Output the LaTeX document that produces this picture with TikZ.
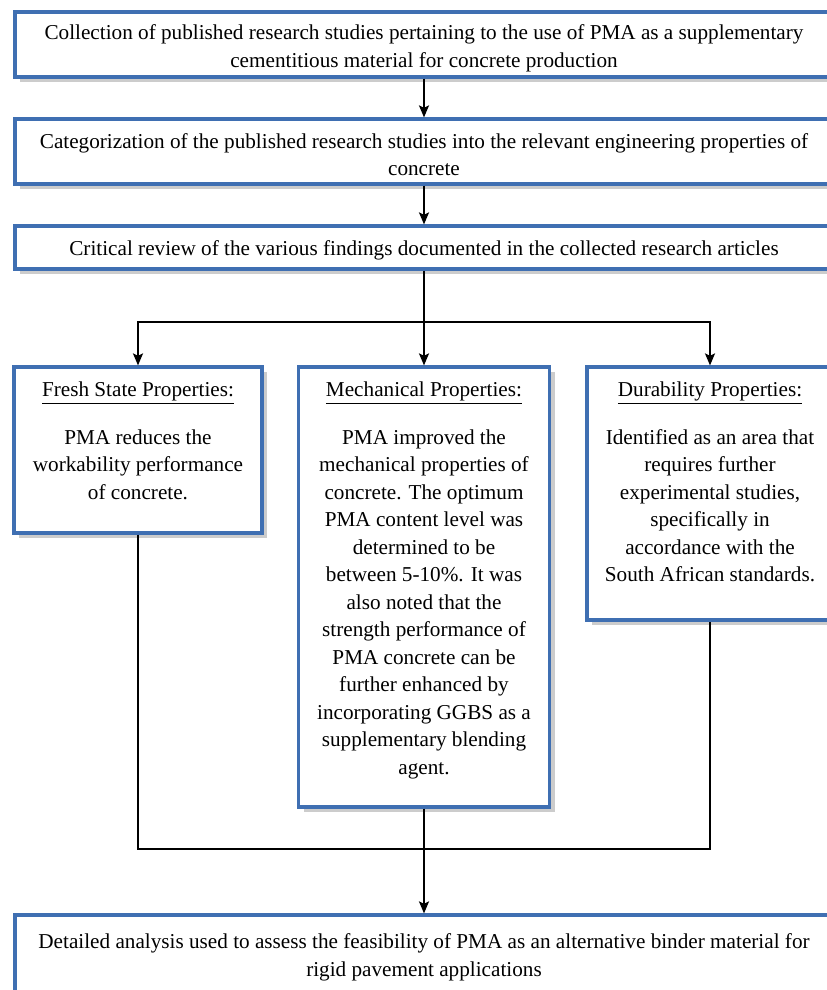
\documentclass[tikz,border=0pt]{standalone}
\usepackage{fontspec}
\setmainfont{Liberation Serif}
\usetikzlibrary{positioning,shadows,arrows.meta}
\definecolor{boxblue}{HTML}{3F6FB2}
\tikzset{
  stagebox/.style={draw=boxblue, line width=1.6pt, fill=white, inner sep=0pt,
    drop shadow={shadow xshift=2.5pt, shadow yshift=-2.5pt, opacity=0.4}},
  boxtext/.style={align=center, inner sep=0pt, font=\fontsize{10.6}{13.75}\selectfont},
  flow/.style={line width=0.9pt, -{Stealth[length=6pt, width=5pt, inset=1.2pt]}},
  link/.style={line width=0.9pt},
}
\begin{document}
\begin{tikzpicture}[x=0.5pt,y=-0.5pt]
\useasboundingbox (0,0) rectangle (826,990);
% full-width stages
\node[stagebox, minimum width=409pt, minimum height=32.5pt] (collect) at (424,44.5){};
\node[boxtext] (collecttxt) at ([yshift=-2pt]collect.center){Collection of published research studies pertaining to the use of PMA as a supplementary\\cementitious material for concrete production};
\node[stagebox, minimum width=409pt, minimum height=32.5pt] (categ) at (424,151.5){};
\node[boxtext] (categtxt) at ([yshift=-1.5pt]categ.center){Categorization of the published research studies into the relevant engineering properties of\\concrete};
\node[stagebox, minimum width=409pt, minimum height=21.5pt] (review) at (424,247.5){};
\node[boxtext] (reviewtxt) at ([yshift=-1.5pt]review.center){Critical review of the various findings documented in the collected research articles};
% property boxes
\node[stagebox, minimum width=124pt, minimum height=83pt] (fresh) at (138,450){};
\node[boxtext, below=8pt of fresh.north] (freshtxt){\underline{Fresh State Properties:}\\[10pt]PMA reduces the\\workability performance\\of concrete.};
\node[stagebox, minimum width=125.5pt, minimum height=220pt] (mech) at (424,587){};
\node[boxtext, below=8pt of mech.north] (mechtxt){\underline{Mechanical Properties:}\\[10pt]PMA improved the\\mechanical properties of\\concrete. The optimum\\PMA content level was\\determined to be\\between 5-10\%. It was\\also noted that the\\strength performance of\\PMA concrete can be\\further enhanced by\\incorporating GGBS as a\\supplementary blending\\agent.};
\node[stagebox, minimum width=123pt, minimum height=126.5pt] (dur) at (710,493.5){};
\node[boxtext, below=8pt of dur.north] (durtxt){\underline{Durability Properties:}\\[10pt]Identified as an area that\\requires further\\experimental studies,\\specifically in\\accordance with the\\South African standards.};
% final stage
\node[stagebox, boxtext, minimum width=409pt, minimum height=42.5pt] (analysis) at (424,957.5){Detailed analysis used to assess the feasibility of PMA as an alternative binder material for\\rigid pavement applications};
% connectors
\coordinate (split) at (424,322);
\coordinate (join) at (424,849);
\draw[flow](collect) -- (categ);
\draw[flow](categ) -- (review);
\draw[flow](review) -- (mech);
\draw[flow](split) -| (fresh);
\draw[flow](split) -| (dur);
\draw[link](fresh) |- (join) -| (dur);
\draw[flow](mech) -- (analysis);
\end{tikzpicture}
\end{document}
